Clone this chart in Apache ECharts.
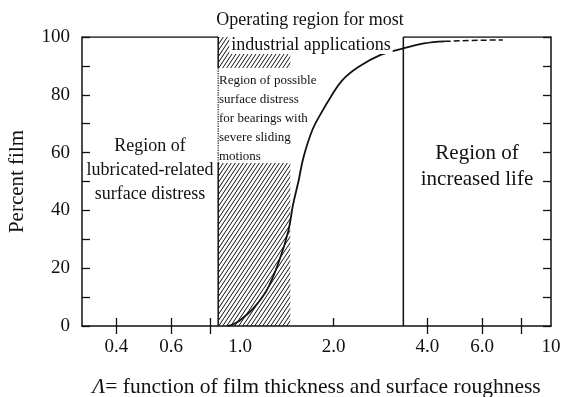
<!DOCTYPE html>
<html><head><meta charset="utf-8">
<script src="https://cdn.jsdelivr.net/npm/echarts@6/dist/echarts.min.js"></script>
<style>html,body{margin:0;padding:0;background:#fff}#c{width:563px;height:397px}</style>
</head><body><div id="c"></div>
<script>
// ---- data ----
const xTickValues = [0.4, 0.6, 0.8, 2, 4, 6, 8];
const xLabelValues = [0.4, 0.6, 1, 2, 4, 6, 10];
const topTickValues = [0.4, 0.6, 0.8, 4, 6, 8];
const yTickValues = [0, 10, 20, 30, 40, 50, 60, 70, 80, 90, 100];
const curveX = [0.91, 0.95, 1.0, 1.1, 1.22, 1.34, 1.43, 1.48, 1.54, 1.60, 1.71, 1.83, 1.95, 2.13, 2.4, 2.83, 3.33, 3.9, 4.55];
const curveY = [0, 0.6, 2, 6, 12.5, 23, 33, 42, 50, 58.5, 68, 74, 79, 85, 89.6, 93.8, 96, 97.8, 98.5];
const dashX = [4.55, 5.5, 7.0];
const dashY = [98.5, 98.8, 99.0];
const leftBoundary = 0.85;   // Λ of left region boundary
const hatchRight = 1.45;     // right edge of hatched region
const rightBoundary = 3.35;  // Λ of increased-life boundary
const hatchLowTop = 56.4;    // top of lower hatched block (%)
const hatchUpBottom = 89.3;  // bottom of upper hatched block (%)
const xMin = 0.31, xMax = 10;

// ---- hatch pattern ----
const pc = document.createElement('canvas');
pc.width = 4; pc.height = 6;
const g = pc.getContext('2d');
g.strokeStyle = '#111'; g.lineWidth = 1;
g.beginPath();
g.moveTo(-4, 6); g.lineTo(0, 0);
g.moveTo(0, 6); g.lineTo(4, 0);
g.moveTo(4, 6); g.lineTo(8, 0);
g.stroke();

const F = 'Liberation Serif, Times New Roman, serif';
const black = '#111';
const chart = echarts.init(document.getElementById('c'));

function seg(pts, type, w) {
  return { type: 'line', data: pts, symbol: 'none', silent: true, animation: false,
    lineStyle: { color: black, width: w || 1.5, type: type || 'solid' }, z: 5 };
}

chart.setOption({
  animation: false,
  backgroundColor: '#fff',
  grid: { left: 82, right: 12, top: 37, bottom: 71, containLabel: false, outerBoundsMode: 'none' },
  xAxis: [{
    type: 'log', logBase: 10, min: xMin, max: xMax, position: 'bottom',
    axisLine: { show: true, onZero: false, lineStyle: { color: black, width: 1.5 } },
    axisTick: { show: true, inside: true, length: 8, customValues: xTickValues, lineStyle: { color: black, width: 1.3 } },
    axisLabel: { show: true, customValues: xLabelValues, margin: 12, color: black, fontFamily: F, fontSize: 19,
      formatter: v => (v >= 10 ? String(Math.round(v)) : Number(v).toFixed(1)) },
    splitLine: { show: false }, minorTick: { show: false },
    name: '{i|Λ}= function of film thickness and surface roughness',
    nameLocation: 'middle', nameGap: 50,
    nameTextStyle: { color: black, fontFamily: F, fontSize: 21.5,
      rich: { i: { fontStyle: 'italic', fontFamily: F, fontSize: 21.5, color: black } } }
  }, {
    type: 'log', logBase: 10, min: xMin, max: xMax, position: 'top',
    axisLine: { show: false },
    axisTick: { show: true, inside: true, length: 8, customValues: topTickValues, lineStyle: { color: black, width: 1.3 } },
    axisLabel: { show: false }, splitLine: { show: false }
  }],
  yAxis: [{
    type: 'value', min: 0, max: 100, interval: 20, position: 'left',
    axisLine: { show: true, lineStyle: { color: black, width: 1.5 } },
    axisTick: { show: true, inside: true, length: 8, customValues: yTickValues, lineStyle: { color: black, width: 1.3 } },
    axisLabel: { color: black, fontFamily: F, fontSize: 19, margin: 12 },
    splitLine: { show: false },
    name: 'Percent film', nameLocation: 'middle', nameGap: 54,
    nameTextStyle: { color: black, fontFamily: F, fontSize: 21 }
  }, {
    type: 'value', min: 0, max: 100, interval: 10, position: 'right',
    axisLine: { show: true, lineStyle: { color: black, width: 1.5 } },
    axisTick: { show: true, inside: true, length: 8, lineStyle: { color: black, width: 1.3 } },
    axisLabel: { show: false }, splitLine: { show: false }
  }],
  series: [
    { type: 'custom', silent: true, z: 2,
      data: [[leftBoundary, hatchRight, 0, hatchLowTop], [leftBoundary, hatchRight, hatchUpBottom, 100]],
      encode: { x: [0, 1], y: [2, 3] },
      renderItem: function (params, api) {
        const p1 = api.coord([api.value(0), api.value(3)]);
        const p2 = api.coord([api.value(1), api.value(2)]);
        return { type: 'rect', shape: { x: p1[0], y: p1[1], width: p2[0] - p1[0], height: p2[1] - p1[1] },
          style: { fill: { image: pc, repeat: 'repeat' }, stroke: null } };
      } },
    seg([[xMin, 100], [leftBoundary, 100]]),
    seg([[rightBoundary, 100], [xMax, 100]]),
    seg([[leftBoundary, 0], [leftBoundary, hatchLowTop]]),
    seg([[leftBoundary, hatchLowTop], [leftBoundary, hatchUpBottom]], 'dotted', 1.2),
    seg([[leftBoundary, hatchUpBottom], [leftBoundary, 100]]),
    seg([[rightBoundary, 0], [rightBoundary, 100]]),
    { type: 'line', data: curveX.map((x, i) => [x, curveY[i]]), symbol: 'none', smooth: 0.4, silent: true,
      lineStyle: { color: black, width: 1.8 }, z: 6 },
    { type: 'line', data: dashX.map((x, i) => [x, dashY[i]]), symbol: 'none', silent: true,
      lineStyle: { color: black, width: 1.5, type: [6, 3] }, z: 6 }
  ],
  graphic: [
    { type: 'text', style: { text: 'Operating region for most', font: '18px ' + F, fill: black, x: 310, y: 20, align: 'center', verticalAlign: 'middle' }, z: 20 },
    { type: 'text', style: { text: 'industrial applications', font: '18px ' + F, fill: black, x: 311, y: 45, align: 'center', verticalAlign: 'middle',
      backgroundColor: '#fff', padding: [0, 2, 0, 2] }, z: 20 },
    { type: 'text', style: { text: 'Region of possible\nsurface distress\nfor bearings with\nsevere sliding\nmotions',
      font: '13px ' + F, fill: black, x: 219, y: 71, align: 'left', verticalAlign: 'top', lineHeight: 19 }, z: 20 },
    { type: 'text', style: { text: 'Region of\nlubricated-related\nsurface distress', font: '18px ' + F, fill: black,
      x: 150, y: 170, align: 'center', verticalAlign: 'middle', lineHeight: 24 }, z: 20 },
    { type: 'text', style: { text: 'Region of\nincreased life', font: '21px ' + F, fill: black,
      x: 477, y: 166, align: 'center', verticalAlign: 'middle', lineHeight: 26 }, z: 20 }
  ]
});
</script></body></html>
